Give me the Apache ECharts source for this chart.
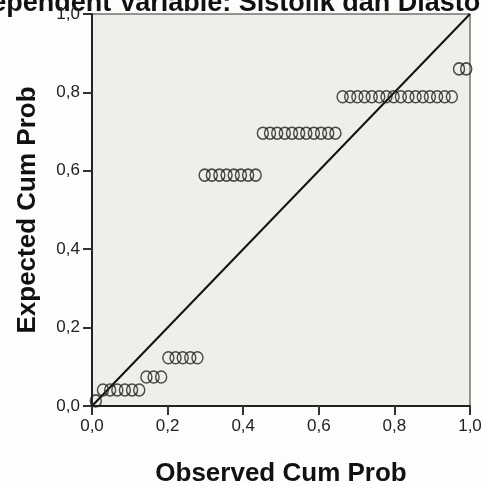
<!DOCTYPE html>
<html>
<head>
<meta charset="utf-8">
<script src="https://cdn.jsdelivr.net/npm/echarts@6/dist/echarts.min.js"></script>
<style>
html,body{margin:0;padding:0;background:#fdfdfb;}
#c{width:482px;height:486px;}
</style>
</head>
<body>
<div id="c"></div>
<script>
// Observed cumulative probabilities (x)
var observed = [0.010, 0.029, 0.048, 0.067, 0.087, 0.106, 0.125, 0.144, 0.163, 0.183,
  0.202, 0.221, 0.240, 0.260, 0.279, 0.298, 0.317, 0.337, 0.356, 0.375,
  0.394, 0.413, 0.433, 0.452, 0.471, 0.490, 0.510, 0.529, 0.548, 0.567,
  0.587, 0.606, 0.625, 0.644, 0.663, 0.683, 0.702, 0.721, 0.740, 0.760,
  0.779, 0.798, 0.817, 0.837, 0.856, 0.875, 0.894, 0.913, 0.933, 0.952,
  0.971, 0.990];
// Expected cumulative probabilities (y)
var expected = [0.013, 0.041, 0.041, 0.041, 0.041, 0.041, 0.041, 0.074, 0.074, 0.074,
  0.123, 0.123, 0.123, 0.123, 0.123, 0.589, 0.589, 0.589, 0.589, 0.589,
  0.589, 0.589, 0.589, 0.696, 0.696, 0.696, 0.696, 0.696, 0.696, 0.696,
  0.696, 0.696, 0.696, 0.696, 0.789, 0.789, 0.789, 0.789, 0.789, 0.789,
  0.789, 0.789, 0.789, 0.789, 0.789, 0.789, 0.789, 0.789, 0.789, 0.789,
  0.860, 0.860];
var tickLabels = ['0,0', '0,2', '0,4', '0,6', '0,8', '1,0'];
var refLine = [[0, 0], [1, 1]];
var titleText = 'Dependent Variable: Sistolik dan Diastolik';
var xName = 'Observed Cum Prob';
var yName = 'Expected Cum Prob';

var points = observed.map(function (v, i) { return [v, expected[i]]; });
var chart = echarts.init(document.getElementById('c'), null, {renderer: 'canvas'});
var fam = '"Liberation Sans", Arial, sans-serif';
function axisCommon() {
  return {
    type: 'value', min: 0, max: 1, interval: 0.2,
    splitLine: {show: false},
    axisLine: {show: true, lineStyle: {color: '#222', width: 2}},
    axisTick: {show: true, length: 9, lineStyle: {color: '#333', width: 2}},
    axisLabel: {
      color: '#222', fontSize: 17, fontFamily: fam,
      formatter: function (v) { return tickLabels[Math.round(v / 0.2)]; }
    },
    nameLocation: 'middle',
    nameTextStyle: {color: '#111', fontSize: 26, fontWeight: 'bold', fontFamily: fam}
  };
}
var xa = axisCommon();
xa.name = xName; xa.nameGap = 55; xa.axisLabel.margin = 12;
var ya = axisCommon();
ya.name = yName; ya.nameGap = 51; ya.axisLabel.margin = 12;

chart.setOption({
  backgroundColor: '#fdfdfb',
  animation: false,
  grid: {left: 92, right: 12, top: 14, bottom: 80, show: true, containLabel: false,
    outerBoundsMode: 'none',
    backgroundColor: '#efeeea', borderColor: '#333', borderWidth: 1},
  xAxis: xa,
  yAxis: ya,
  graphic: [{
    type: 'text', left: 'center', top: -10,
    style: {text: titleText, fill: '#111', font: 'bold 27px ' + fam}
  }],
  series: [{
    type: 'line', data: refLine, symbol: 'none', silent: true,
    lineStyle: {color: '#111', width: 2}, z: 3
  }, {
    type: 'scatter', data: points, symbol: 'circle', symbolSize: [11, 12],
    itemStyle: {color: 'rgba(0,0,0,0)', borderColor: '#222', borderWidth: 1.5}, z: 4
  }]
});
</script>
</body>
</html>
